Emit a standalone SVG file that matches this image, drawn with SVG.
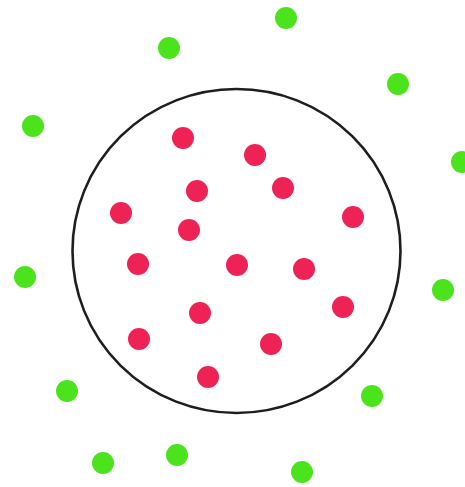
<svg xmlns="http://www.w3.org/2000/svg" width="465" height="487" viewBox="0 0 465 487">
<defs>
<style>
.red{fill:#EF2356;filter:url(#soft)}
.green{fill:#4CE31F;filter:url(#soft)}
.ring{fill:none;stroke:#1e1e1e;stroke-width:2.6}
</style>
<filter id="soft" x="-30%" y="-30%" width="160%" height="160%"><feGaussianBlur stdDeviation="0.7"/></filter>
</defs>
<rect width="465" height="487" fill="#ffffff"/>
<g id="boundary"><ellipse class="ring" cx="236.5" cy="251" rx="164" ry="162"/></g>
<g id="inside">
<circle class="red" cx="183" cy="138" r="11"/>
<circle class="red" cx="255" cy="155" r="11"/>
<circle class="red" cx="197" cy="191" r="11"/>
<circle class="red" cx="283" cy="188" r="11"/>
<circle class="red" cx="121" cy="213" r="11"/>
<circle class="red" cx="353" cy="217" r="11"/>
<circle class="red" cx="189" cy="230" r="11"/>
<circle class="red" cx="138" cy="264" r="11"/>
<circle class="red" cx="237" cy="265" r="11"/>
<circle class="red" cx="304" cy="269" r="11"/>
<circle class="red" cx="343" cy="307" r="11"/>
<circle class="red" cx="200" cy="313" r="11"/>
<circle class="red" cx="139" cy="339" r="11"/>
<circle class="red" cx="271" cy="344" r="11"/>
<circle class="red" cx="208" cy="377" r="11"/>
</g>
<g id="outside">
<circle class="green" cx="286" cy="18" r="11"/>
<circle class="green" cx="169" cy="48" r="11"/>
<circle class="green" cx="398" cy="84" r="11"/>
<circle class="green" cx="33" cy="126" r="11"/>
<circle class="green" cx="462" cy="162" r="11"/>
<circle class="green" cx="25" cy="277" r="11"/>
<circle class="green" cx="443" cy="290" r="11"/>
<circle class="green" cx="67" cy="391" r="11"/>
<circle class="green" cx="372" cy="396" r="11"/>
<circle class="green" cx="177" cy="455" r="11"/>
<circle class="green" cx="103" cy="463" r="11"/>
<circle class="green" cx="302" cy="472" r="11"/>
</g>
</svg>
